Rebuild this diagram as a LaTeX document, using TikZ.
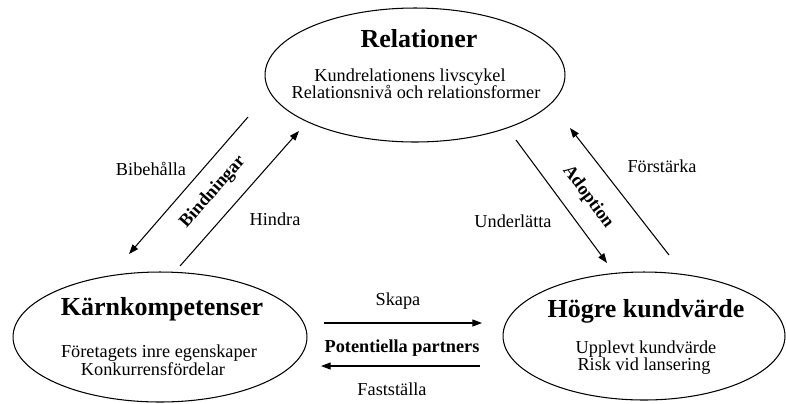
\documentclass[tikz,border=0pt]{standalone}
\usepackage{fontspec}
\setmainfont{Liberation Serif}
\usetikzlibrary{shapes.geometric,arrows.meta}
\begin{document}
\begin{tikzpicture}[x=0.02cm,y=-0.02cm,
  field/.style={draw, ellipse, line width=0.6pt, inner sep=0pt},
  heading/.style={anchor=base, inner sep=0pt, font=\fontsize{14.8}{17}\selectfont\bfseries},
  body/.style={anchor=base, inner sep=0pt, font=\fontsize{10.4}{12}\selectfont},
  bodybold/.style={anchor=base, inner sep=0pt, font=\fontsize{10.4}{12}\selectfont\bfseries},
  flow/.style={line width=0.6pt, -{Triangle[length=5.5pt,width=4pt]}}]
\fill[white] (0,0) rectangle (786,403);
\useasboundingbox (0,0) rectangle (786,403);

% the three areas
\node[field, minimum width=6cm, minimum height=2.68cm] (rel) at (415,75) {};
\node[field, minimum width=5.88cm, minimum height=2.6cm] (karn) at (160,337) {};
\node[field, minimum width=5.64cm, minimum height=2.56cm] (hogre) at (644,336) {};

% texts of Relationer
\node[heading] (relT) at (419,47) {Relationer};
\node[body] (relA) at (410,81) {Kundrelationens livscykel};
\node[body] (relB) at (416,98) {Relationsnivå och relationsformer};

% texts of Kärnkompetenser
\node[heading] (karnT) at (162,315) {Kärnkompetenser};
\node[body] (karnA) at (159,357) {Företagets inre egenskaper};
\node[body] (karnB) at (153,375) {Konkurrensfördelar};

% texts of Högre kundvärde
\node[heading] (hogT) at (646,317) {Högre kundvärde};
\node[body] (hogA) at (646,353) {Upplevt kundvärde};
\node[body] (hogB) at (644,370) {Risk vid lansering};

% arrow end points
\coordinate (bibS) at (248,117);
\coordinate (bibE) at (129,254);
\coordinate (hinS) at (180,266);
\coordinate (hinE) at (299,131);
\coordinate (undS) at (516,140);
\coordinate (undE) at (607,263);
\coordinate (forS) at (669,255);
\coordinate (forE) at (570,128);
\coordinate (skaS) at (324,323);
\coordinate (skaE) at (482,323);
\coordinate (fasS) at (480,366);
\coordinate (fasE) at (321,366);

% arrows
\draw[flow] (bibS) -- (bibE);
\draw[flow] (hinS) -- (hinE);
\draw[flow] (undS) -- (undE);
\draw[flow] (forS) -- (forE);
\draw[flow] (skaS) -- (skaE);
\draw[flow] (fasS) -- (fasE);

% arrow labels
\node[body] (bib) at (151,175) {Bibehålla};
\node[body] (hin) at (275,225) {Hindra};
\node[bodybold, anchor=center, rotate=48.6] (bind) at (213,192) {Bindningar};
\node[body] (for) at (662,172) {Förstärka};
\node[body] (und) at (513,227) {Underlätta};
\node[bodybold, anchor=center, rotate=-53.5] (adop) at (588,197) {Adoption};
\node[body] (ska) at (398,305) {Skapa};
\node[bodybold] (pot) at (402,352) {Potentiella partners};
\node[body] (fas) at (392,395) {Fastställa};
\end{tikzpicture}
\end{document}
